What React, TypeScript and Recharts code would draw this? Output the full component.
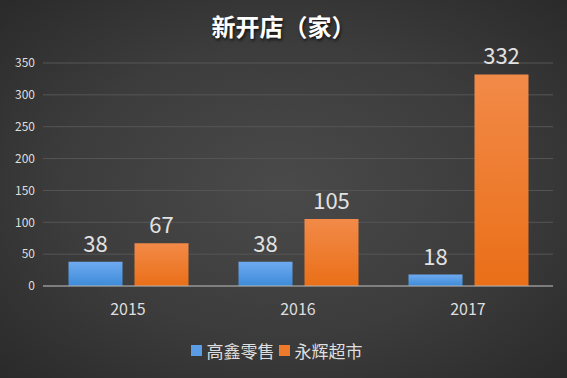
import React from 'react';
import { BarChart, Bar, XAxis, YAxis, CartesianGrid, Legend, LabelList } from 'recharts';

const years = ['2015', '2016', '2017'];
const gaoxin = [38, 38, 18];
const yonghui = [67, 105, 332];
const yTicks = [0, 50, 100, 150, 200, 250, 300, 350];
const seriesNames = ['高鑫零售', '永辉超市'];
const seriesColors = ['#5a9de6', '#ee7b2c'];

const data = years.map((year, i) => ({ year, gaoxin: gaoxin[i], yonghui: yonghui[i] }));

const font = '"Noto Sans CJK SC", "Noto Sans", sans-serif';

const LegendContent = () => (
  <div style={{ display: 'flex', justifyContent: 'center', alignItems: 'center', gap: 4 }}>
    {seriesNames.map((name, i) => (
      <span key={name} style={{ display: 'flex', alignItems: 'center', color: '#dedede', fontSize: 17 }}>
        <span style={{ width: 11, height: 11, background: seriesColors[i], marginRight: 5, display: 'inline-block' }} />
        {name}
      </span>
    ))}
  </div>
);

export default function App() {
  return (
    <div
      style={{
        position: 'absolute',
        left: 0,
        top: 0,
        width: 567,
        height: 378,
        background: 'radial-gradient(ellipse at 50% 50%, #4a4a4a 0%, #3c3c3c 55%, #2a2a2a 100%)',
        fontFamily: font,
        overflow: 'hidden',
      }}
    >
      <div
        style={{
          position: 'absolute',
          top: 8,
          width: 567,
          textAlign: 'center',
          color: '#fff',
          fontSize: 24,
          fontWeight: 700,
          textShadow: '1px 2px 3px rgba(0,0,0,0.7)',
        }}
      >
        新开店（家）
      </div>
      <BarChart
        width={567}
        height={378}
        data={data}
        margin={{ top: 63, right: 14, left: 0, bottom: 12 }}
        barCategoryGap="15%"
        barGap={12}
      >
        <defs>
          <linearGradient id="blueG" x1="0" y1="0" x2="0" y2="1">
            <stop offset="0%" stopColor="#6eaaf0" />
            <stop offset="100%" stopColor="#3d8bd8" />
          </linearGradient>
          <linearGradient id="orangeG" x1="0" y1="0" x2="0" y2="1">
            <stop offset="0%" stopColor="#f28a48" />
            <stop offset="100%" stopColor="#ea6f18" />
          </linearGradient>
        </defs>
        <CartesianGrid vertical={false} stroke="#565656" />
        <XAxis
          dataKey="year"
          axisLine={{ stroke: '#b5b5b5' }}
          tickLine={false}
          tick={{ fill: '#dedede', fontSize: 16, fontFamily: font }}
          tickMargin={12}
        />
        <YAxis
          width={43}
          domain={[0, 350]}
          ticks={yTicks}
          axisLine={false}
          tickLine={false}
          tick={{ fill: '#dedede', fontSize: 12, fontFamily: font }}
          tickMargin={2}
        />
        <Legend
          verticalAlign="bottom"
          height={50}
          content={LegendContent}
          wrapperStyle={{ top: 338, bottom: 'auto', fontFamily: font }}
        />
        <Bar dataKey="gaoxin" name={seriesNames[0]} fill="url(#blueG)" isAnimationActive={false}>
          <LabelList dataKey="gaoxin" position="top" offset={10} fill="#e2e2e2" fontSize={22} fontFamily={font} />
        </Bar>
        <Bar dataKey="yonghui" name={seriesNames[1]} fill="url(#orangeG)" isAnimationActive={false}>
          <LabelList dataKey="yonghui" position="top" offset={10} fill="#e2e2e2" fontSize={22} fontFamily={font} />
        </Bar>
      </BarChart>
    </div>
  );
}
